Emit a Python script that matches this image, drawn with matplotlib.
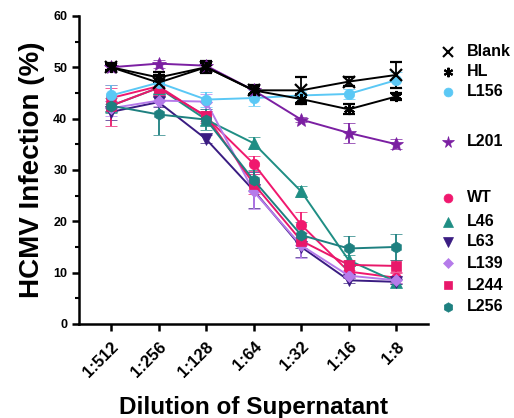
import matplotlib
matplotlib.use("Agg")
import matplotlib.pyplot as plt
from matplotlib.lines import Line2D
import numpy as np

plt.rcParams['font.family'] = ['Liberation Sans', 'DejaVu Sans']
plt.rcParams['font.weight'] = 'bold'

dilutions = ['1:512', '1:256', '1:128', '1:64', '1:32', '1:16', '1:8']

# mean and error
wt = [44.0, 46.3, 40.3, 31.2, 19.3, 10.2, 9.0]
wt_err = [2.0, 2.0, 1.2, 1.5, 2.5, 1.0, 1.0]
l46 = [42.5, 46.0, 39.8, 35.2, 25.8, 12.4, 8.2]
l46_err = [1.0, 1.5, 1.0, 1.2, 1.0, 1.0, 0.5]
l63 = [41.3, 43.2, 36.0, 26.0, 15.0, 8.5, 8.2]
l63_err = [1.5, 1.0, 0.8, 3.5, 2.0, 0.5, 0.5]
l139 = [42.0, 43.5, 43.3, 25.8, 15.3, 9.4, 8.5]
l139_err = [1.5, 1.0, 1.5, 3.5, 2.5, 0.5, 0.5]
l244 = [42.5, 46.0, 40.5, 27.3, 16.2, 11.5, 11.3]
l244_err = [4.0, 1.5, 1.0, 2.0, 1.5, 1.0, 1.2]
l256 = [42.5, 40.8, 39.8, 28.0, 17.3, 14.7, 15.0]
l256_err = [1.5, 4.0, 2.0, 2.0, 2.5, 2.5, 2.5]
l156 = [44.5, 47.0, 43.7, 44.0, 44.5, 44.8, 47.5]
l156_err = [2.0, 1.5, 1.5, 1.5, 1.0, 1.0, 1.5]
l201 = [50.0, 50.7, 50.3, 45.5, 39.8, 37.2, 35.0]
l201_err = [0.8, 0.8, 1.0, 1.0, 0.5, 2.0, 1.0]
hl = [50.0, 48.0, 50.0, 45.5, 43.8, 41.8, 44.3]
hl_err = [0.5, 1.0, 0.8, 0.8, 1.0, 1.0, 0.6]
blank = [50.0, 47.0, 50.0, 45.5, 45.5, 47.2, 48.5]
blank_err = [0.8, 1.5, 1.2, 1.0, 2.5, 0.8, 2.5]

asterisk = (6, 2, 0)
series = [
    ('WT', wt, wt_err, '#F0186E', 'o', 7.5),
    ('L46', l46, l46_err, '#1F8E84', '^', 8),
    ('L63', l63, l63_err, '#3A1C82', 'v', 8),
    ('L139', l139, l139_err, '#B57BEA', 'D', 6),
    ('L244', l244, l244_err, '#E8186A', 's', 7.5),
    ('L256', l256, l256_err, '#1E8080', 'h', 8),
    ('L156', l156, l156_err, '#5BC8F5', 'o', 7.5),
    ('L201', l201, l201_err, '#7B1FA2', '*', 10),
    ('HL', hl, hl_err, 'black', asterisk, 8),
    ('Blank', blank, blank_err, 'black', 'x', 9),
]

fig = plt.figure(figsize=(5.14, 4.18), dpi=100)
ax = fig.add_axes([0.154, 0.225, 0.679, 0.737])

x = np.arange(len(dilutions))
for name, y, e, c, m, ms in series:
    ax.errorbar(x, y, yerr=e, color=c, marker=m, markersize=ms, lw=1.4,
                elinewidth=1.3, capsize=4.5, capthick=1.3,
                markeredgewidth=1.6 if m in ('x', asterisk) else 0.5)

ax.set_xlim(-0.67, 6.67)
ax.set_ylim(0, 60)
ax.set_yticks(range(0, 61, 10))
ax.set_yticks(range(5, 60, 10), minor=True)
ax.set_xticks(x)
ax.set_xticklabels(dilutions, rotation=45, ha='right', rotation_mode='anchor',
                   fontsize=12, fontweight='bold')
for lab in ax.get_yticklabels():
    lab.set_fontsize(9)
    lab.set_fontweight('bold')
ax.tick_params(axis='x', which='major', pad=6)
ax.tick_params(axis='both', which='major', width=1.8, length=5, direction='out')
ax.tick_params(axis='y', which='minor', width=1.5, length=3)
ax.spines['top'].set_visible(False)
ax.spines['right'].set_visible(False)
for s in ('left', 'bottom'):
    ax.spines[s].set_linewidth(1.8)

ax.set_ylabel('HCMV Infection (%)', fontsize=20, fontweight='bold', labelpad=6)
ax.set_xlabel('Dilution of Supernatant', fontsize=17.5, fontweight='bold')
ax.xaxis.set_label_coords(0.5, -0.235)

# legend drawn by hand to keep the group gaps
legend_y = {'Blank': 51.7, 'HL': 71.7, 'L156': 91.7, 'L201': 141.7, 'WT': 198,
            'L46': 221.7, 'L63': 241.7, 'L139': 263, 'L244': 285, 'L256': 306.7}
W, H = 514, 418
for name, y, e, c, m, ms in series:
    py = 1 - legend_y[name] / H
    fig.add_artist(Line2D([448 / W], [py], marker=m, color=c, markersize=ms * 0.85,
                          linestyle='none', transform=fig.transFigure,
                          markeredgewidth=1.5 if m in ('x', asterisk) else 0.5))
    fig.text(467 / W, py, name, fontsize=11.5, fontweight='bold', va='center', ha='left')

fig.savefig('out.png', dpi=100)
